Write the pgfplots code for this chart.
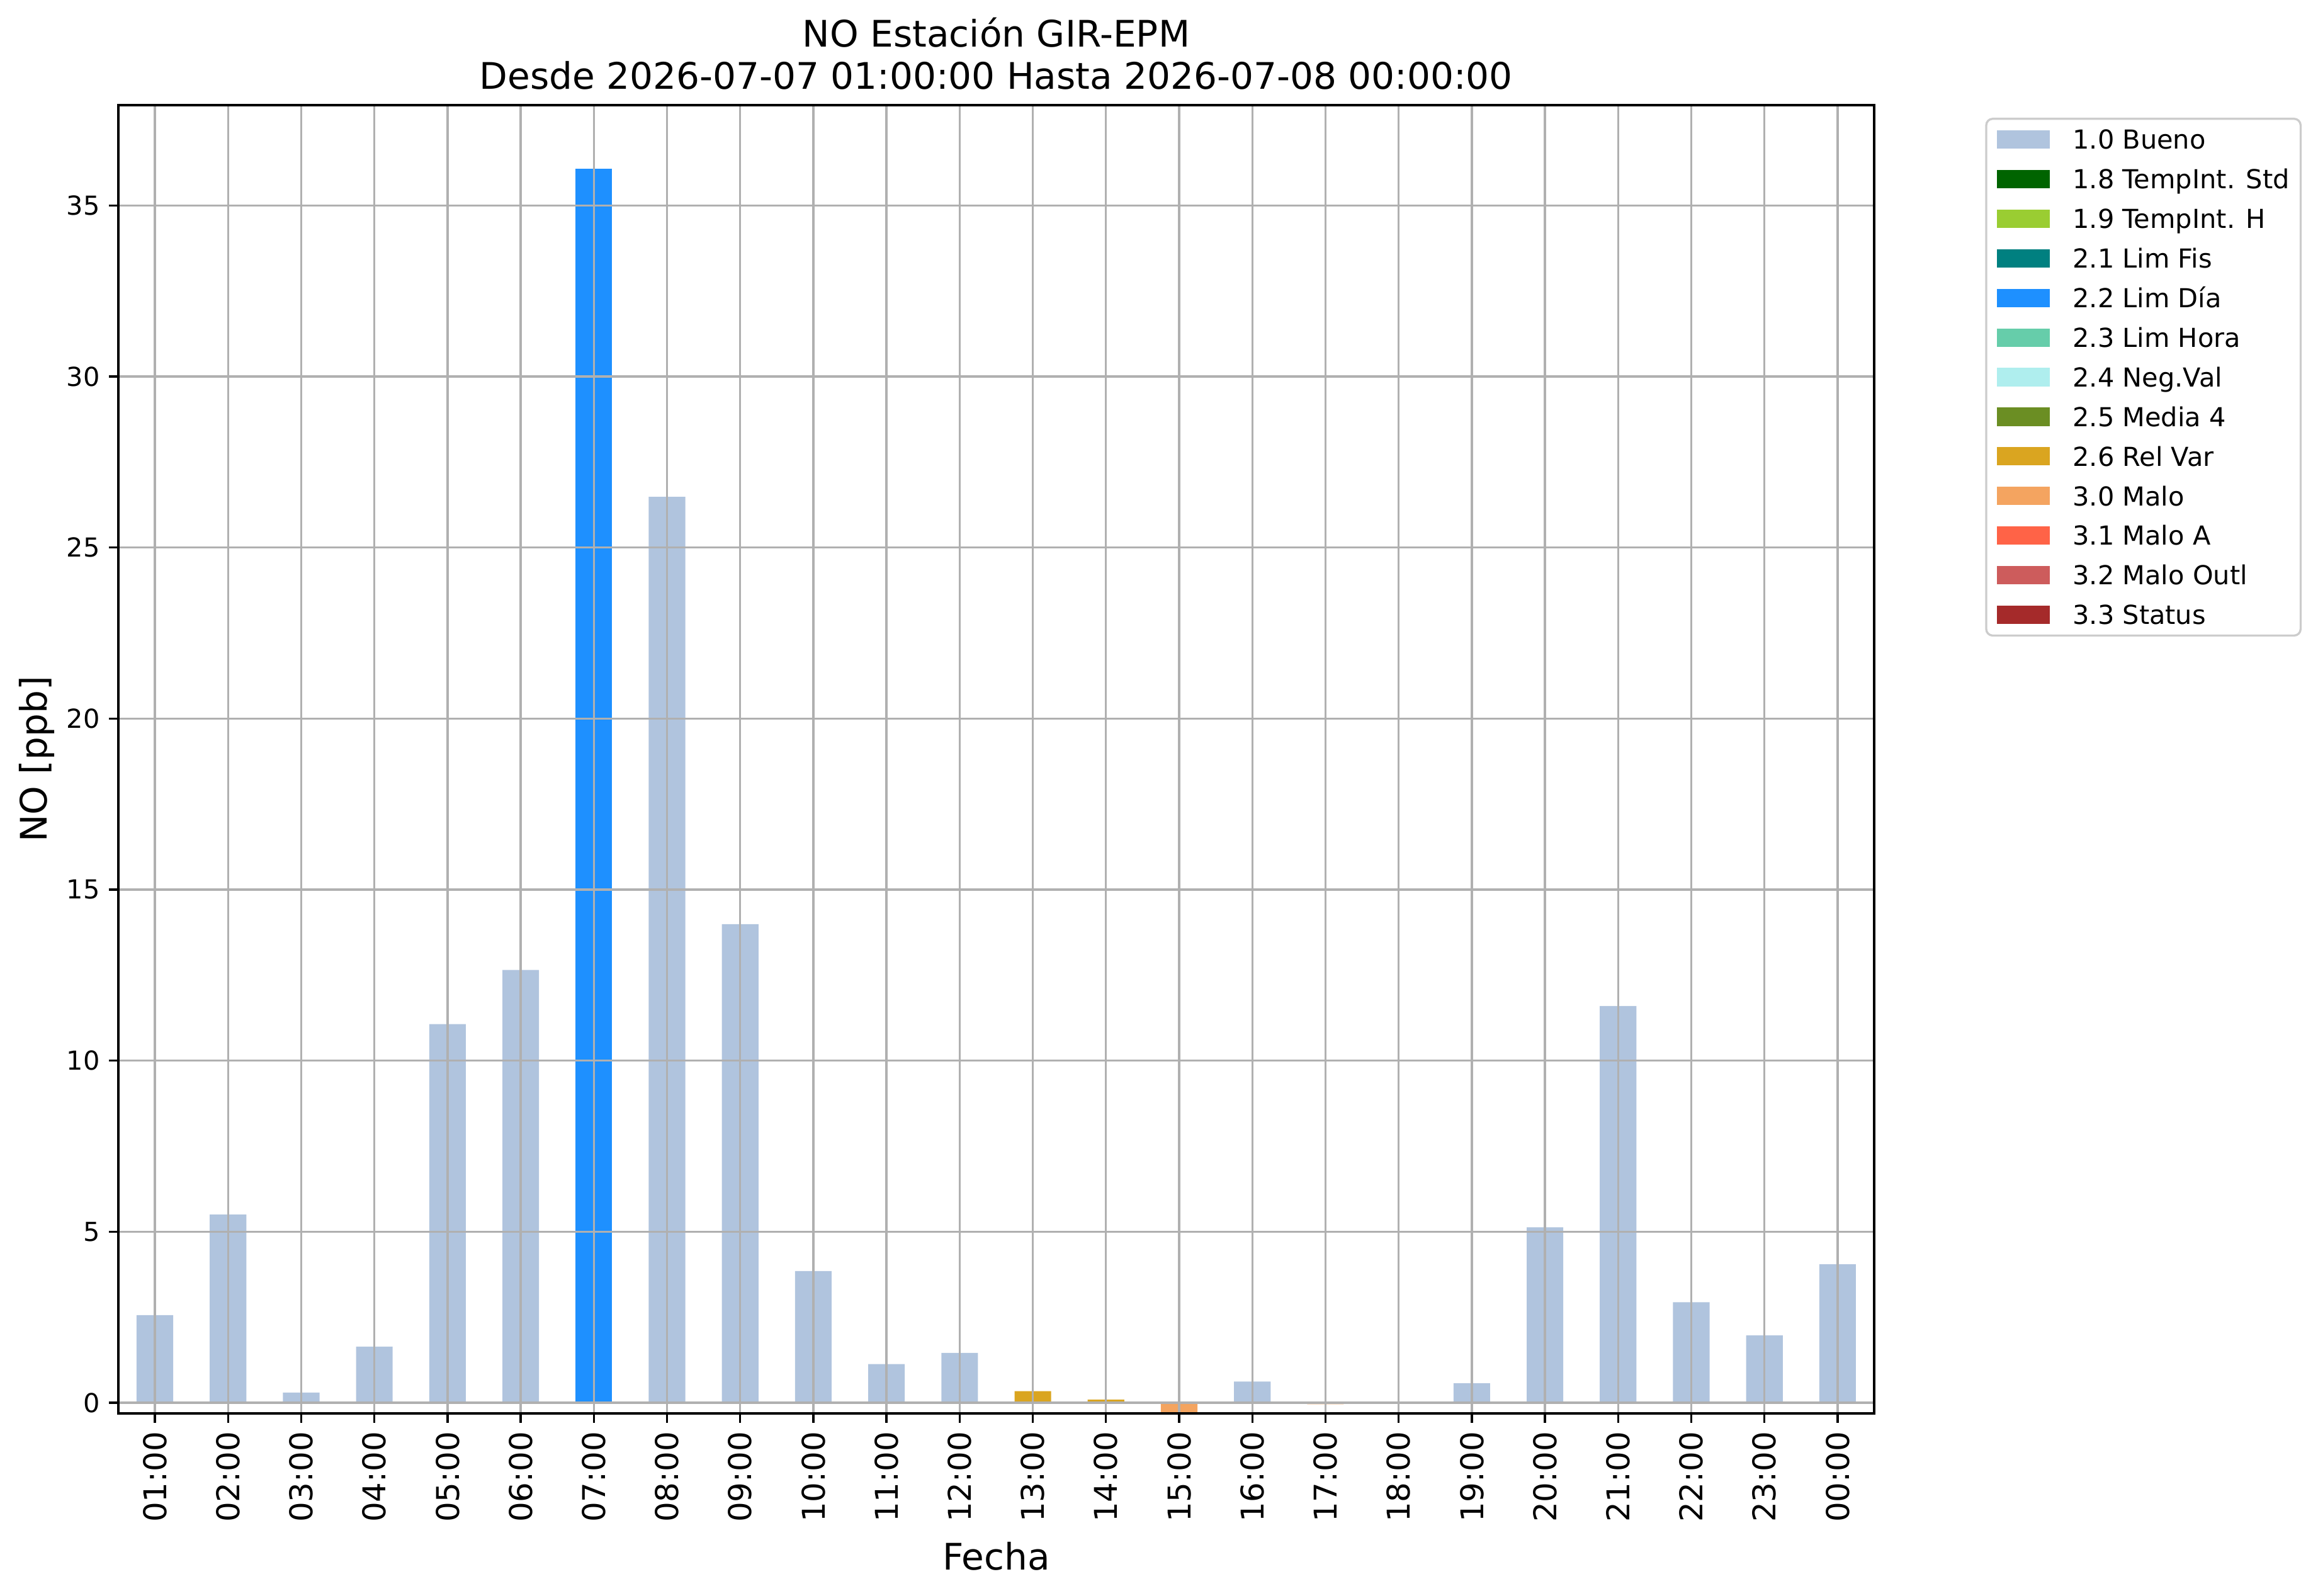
\documentclass[border=0pt]{standalone}
\usepackage{fontspec}
\setmainfont{DejaVu Sans}
\usepackage{pgfplots}
\pgfplotsset{compat=1.18}
\definecolor{cbueno}{HTML}{B0C4DE}
\definecolor{cstd}{HTML}{006400}
\definecolor{ch}{HTML}{9ACD32}
\definecolor{cfis}{HTML}{008080}
\definecolor{cdia}{HTML}{1E90FF}
\definecolor{chora}{HTML}{66CDAA}
\definecolor{cneg}{HTML}{AFEEEE}
\definecolor{cmedia}{HTML}{6B8E23}
\definecolor{crel}{HTML}{DAA520}
\definecolor{cmalo}{HTML}{F4A460}
\definecolor{cmaloa}{HTML}{FF6347}
\definecolor{coutl}{HTML}{CD5C5C}
\definecolor{cstatus}{HTML}{A52A2A}
\definecolor{gridgray}{HTML}{B0B0B0}
\definecolor{legendgray}{HTML}{CCCCCC}
\pgfplotsset{patchlegend/.style={legend image code/.code={\fill[sharp corners,##1] (0bp,-3.5bp) rectangle (20bp,3.5bp);}},
  mybar/.style={ybar, bar width=0.5, bar shift=0pt, draw=none, patchlegend}}
\begin{document}
\begin{tikzpicture}
\path[use as bounding box] (0,0) rectangle (883.7bp,608.2bp);
\begin{axis}[
  at={(45.1bp,69.4bp)}, anchor=south west,
  scale only axis, width=669.4bp, height=498.7bp,
  xmin=-0.5, xmax=23.5, ymin=-0.31, ymax=37.93,
  axis on top,
  clip mode=individual,
  axis line style={line width=0.8bp, black},
  xtick={0,...,23},
  xticklabels={01:00,02:00,03:00,04:00,05:00,06:00,07:00,08:00,09:00,10:00,11:00,12:00,13:00,14:00,15:00,16:00,17:00,18:00,19:00,20:00,21:00,22:00,23:00,00:00},
  ytick={0,5,10,15,20,25,30,35},
  grid=major,
  major grid style={line width=0.8bp, color=gridgray},
  tick align=outside, major tick length=3.5bp,
  tick style={line width=0.8bp, black},
  xtick pos=left, ytick pos=left,
  /pgf/number format/assume math mode=true,
  yticklabel style={font=\fontsize{10}{12}\selectfont},
  xticklabel style={font=\fontsize{12}{14}\selectfont, rotate=90, anchor=east},
  xlabel={Fecha}, ylabel={NO [ppb]},
  every axis x label/.style={at={(axis description cs:0.5,-0.11971)}, anchor=base, font=\fontsize{14}{16}\selectfont},
  every axis y label/.style={at={(axis description cs:-0.04078,0.5)}, rotate=90, anchor=base, font=\fontsize{14}{16}\selectfont},
  legend style={at={(axis description cs:1.0632,0.9904)}, anchor=north west, draw=legendgray, line width=0.8bp, rounded corners=2.5bp, fill=white, font=\fontsize{10}{12}\selectfont, inner xsep=4.2bp, inner ysep=4.25bp, row sep=7.8bp, column sep=8.8bp, nodes={inner sep=0pt, text height=7.3bp, text depth=0bp}, cells={anchor=west}},
]
\addplot[mybar, fill=cbueno] coordinates {(0,2.56) (1,5.50) (2,0.30) (3,1.64) (4,11.07) (5,12.65) (7,26.48) (8,13.99) (9,3.85) (10,1.13) (11,1.46) (15,0.62) (18,0.57) (19,5.13) (20,11.60) (21,2.94) (22,1.97) (23,4.05)};
\addlegendentry{1.0 Bueno}
\addlegendimage{fill=cstd, draw=none, patchlegend}
\addlegendentry{1.8 TempInt. Std}
\addlegendimage{fill=ch, draw=none, patchlegend}
\addlegendentry{1.9 TempInt. H}
\addlegendimage{fill=cfis, draw=none, patchlegend}
\addlegendentry{2.1 Lim Fis}
\addplot[mybar, fill=cdia] coordinates {(6,36.08)};
\addlegendentry{2.2 Lim Día}
\addlegendimage{fill=chora, draw=none, patchlegend}
\addlegendentry{2.3 Lim Hora}
\addlegendimage{fill=cneg, draw=none, patchlegend}
\addlegendentry{2.4 Neg.Val}
\addlegendimage{fill=cmedia, draw=none, patchlegend}
\addlegendentry{2.5 Media 4}
\addplot[mybar, fill=crel] coordinates {(12,0.34) (13,0.09)};
\addlegendentry{2.6 Rel Var}
\addplot[mybar, fill=cmalo] coordinates {(14,-0.31) (16,-0.04)};
\addlegendentry{3.0 Malo}
\addlegendimage{fill=cmaloa, draw=none, patchlegend}
\addlegendentry{3.1 Malo A}
\addlegendimage{fill=coutl, draw=none, patchlegend}
\addlegendentry{3.2 Malo Outl}
\addlegendimage{fill=cstatus, draw=none, patchlegend}
\addlegendentry{3.3 Status}
\node[anchor=base, font=\fontsize{14}{16}\selectfont] at (axis description cs:0.5,1.04431) {NO Estación GIR-EPM};
\node[anchor=base, font=\fontsize{14}{16}\selectfont] at (axis description cs:0.5,1.01223) {Desde 2026-07-07 01:00:00 Hasta 2026-07-08 00:00:00};
\end{axis}
\end{tikzpicture}
\end{document}
